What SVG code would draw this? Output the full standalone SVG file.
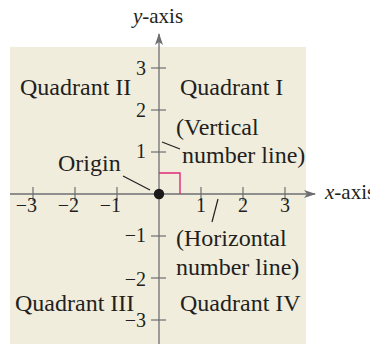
<svg xmlns="http://www.w3.org/2000/svg" width="370" height="344" viewBox="0 0 370 344">
<style>
text{font-family:"Liberation Serif","Times New Roman",serif;fill:#231f20}
.q{font-size:24px}
.n{font-size:20px}
.ax{stroke:#6d6e71;stroke-width:1.3;fill:none}
.tk{stroke:#6d6e71;stroke-width:1.2}
.ld{stroke:#231f20;stroke-width:1.2}
</style>
<defs>
<marker id="arr" viewBox="0 0 12 8" refX="11" refY="4" markerWidth="12" markerHeight="8" markerUnits="userSpaceOnUse" orient="auto">
<path d="M0,0 L12,4 L0,8 L3,4 Z" fill="#6d6e71"/>
</marker>
</defs>
<rect id="bg" x="10" y="47" width="296" height="297" fill="#f1eddd"/>
<g id="connectors">
<line class="ax" x1="10" y1="194" x2="315" y2="194" marker-end="url(#arr)"/>
<line class="ax" x1="159" y1="344" x2="159" y2="34" marker-end="url(#arr)"/>
<g class="tk">
<line x1="33" y1="187" x2="33" y2="201"/>
<line x1="75" y1="187" x2="75" y2="201"/>
<line x1="117" y1="187" x2="117" y2="201"/>
<line x1="201" y1="187" x2="201" y2="201"/>
<line x1="243" y1="187" x2="243" y2="201"/>
<line x1="285" y1="187" x2="285" y2="201"/>
<line x1="151" y1="68" x2="166" y2="68"/>
<line x1="151" y1="110" x2="166" y2="110"/>
<line x1="151" y1="152" x2="166" y2="152"/>
<line x1="151" y1="236" x2="166" y2="236"/>
<line x1="151" y1="278" x2="166" y2="278"/>
<line x1="151" y1="320" x2="166" y2="320"/>
</g>
<polyline points="159,173 180,173 180,194" fill="none" stroke="#e0287a" stroke-width="1.4"/>
<line class="ld" x1="123" y1="176" x2="150" y2="190"/>
<line class="ld" x1="162" y1="142" x2="180" y2="149"/>
<line class="ld" x1="218" y1="199" x2="212" y2="222"/>
</g>
<g id="origin"><circle cx="159" cy="194" r="5.2" fill="#1a1a1a"/><text class="q" x="58" y="171">Origin</text></g>
<g id="labels-axes">
<text x="158" y="23" text-anchor="middle" style="font-size:21px"><tspan font-style="italic">y</tspan>-axis</text>
<text x="325" y="199" style="font-size:21px"><tspan font-style="italic">x</tspan>-axis</text>
</g>
<g id="xticks">
<text class="n" x="37" y="212" text-anchor="end">−3</text>
<text class="n" x="79" y="212" text-anchor="end">−2</text>
<text class="n" x="121" y="212" text-anchor="end">−1</text>
<text class="n" x="201" y="212" text-anchor="middle">1</text>
<text class="n" x="243" y="212" text-anchor="middle">2</text>
<text class="n" x="285" y="212" text-anchor="middle">3</text>
</g>
<g id="yticks">
<text class="n" x="146" y="75" text-anchor="end">3</text>
<text class="n" x="146" y="117" text-anchor="end">2</text>
<text class="n" x="146" y="158" text-anchor="end">1</text>
<text class="n" x="146" y="242" text-anchor="end">−1</text>
<text class="n" x="146" y="286" text-anchor="end">−2</text>
<text class="n" x="146" y="327" text-anchor="end">−3</text>
</g>
<g id="q2"><text class="q" x="20" y="95">Quadrant II</text></g>
<g id="q1"><text class="q" x="180" y="95">Quadrant I</text></g>
<g id="q3"><text class="q" x="15" y="311">Quadrant III</text></g>
<g id="q4"><text class="q" x="180" y="311">Quadrant IV</text></g>
<g id="vertical"><text class="q" x="176" y="135">(Vertical</text><text class="q" x="182" y="163">number line)</text></g>
<g id="horizontal"><text class="q" x="176" y="246">(Horizontal</text><text class="q" x="176" y="275">number line)</text></g>
</svg>
